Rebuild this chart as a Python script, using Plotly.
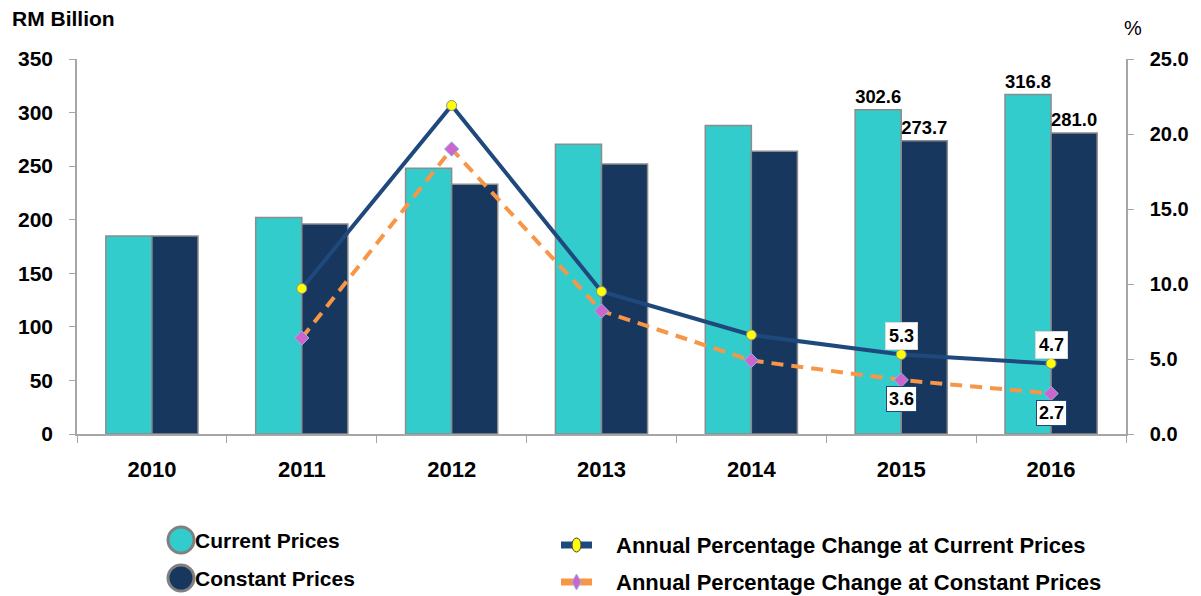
import plotly.graph_objects as go

years = ["2010", "2011", "2012", "2013", "2014", "2015", "2016"]
current_prices = [184.8, 202.0, 248.0, 270.5, 288.0, 302.6, 316.8]
constant_prices = [184.8, 196.0, 233.0, 252.0, 264.0, 273.7, 281.0]
pct_years = ["2011", "2012", "2013", "2014", "2015", "2016"]
pct_current = [9.7, 21.9, 9.5, 6.6, 5.3, 4.7]
pct_constant = [6.4, 19.0, 8.2, 4.9, 3.6, 2.7]

bar_label_years = ["2015", "2016"]
line_label_years = ["2015", "2016"]

FONT = "Arial, Liberation Sans, sans-serif"
TEAL = "#33CCCC"
NAVY = "#17375E"
LINE_NAVY = "#1F497D"
ORANGE = "#F79646"

cur_text = [f"{v:.1f}" if y in bar_label_years else "" for y, v in zip(years, current_prices)]
con_text = [f"{v:.1f}" if y in bar_label_years else "" for y, v in zip(years, constant_prices)]

fig = go.Figure()
fig.add_trace(go.Bar(
    x=years, y=current_prices, name="Current Prices",
    marker=dict(color=TEAL, line=dict(color="#8c8c8c", width=1.5)),
    text=cur_text, textposition="outside", cliponaxis=False,
    textfont=dict(family=FONT, size=19, color="black", weight="bold"),
))
fig.add_trace(go.Bar(
    x=years, y=constant_prices, name="Constant Prices",
    marker=dict(color=NAVY, line=dict(color="#8c8c8c", width=1.5)),
    text=con_text, textposition="outside", cliponaxis=False,
    textfont=dict(family=FONT, size=19, color="black", weight="bold"),
))
fig.add_trace(go.Scatter(
    x=pct_years, y=pct_constant, yaxis="y2", mode="lines+markers",
    name="Annual Percentage Change at Constant Prices",
    line=dict(color=ORANGE, width=4, dash="12px,8px"),
    marker=dict(symbol="diamond", size=11, color="#CC66CC", line=dict(color="#8fb4e3", width=1)),
    cliponaxis=False,
))
fig.add_trace(go.Scatter(
    x=pct_years, y=pct_current, yaxis="y2", mode="lines+markers",
    name="Annual Percentage Change at Current Prices",
    line=dict(color=LINE_NAVY, width=4),
    marker=dict(symbol="circle", size=10, color="#FFFF00", line=dict(color="#8c8c8c", width=1)),
    cliponaxis=False,
))

annotations = []
for y, v in zip(pct_years, pct_current):
    if y in line_label_years:
        annotations.append(dict(x=years.index(y), y=v, xref="x", yref="y2", text=f"{v:.1f}", showarrow=False,
                                yshift=19, bgcolor="white", bordercolor="#d9d9d9", borderwidth=1, borderpad=3,
                                font=dict(family=FONT, size=18, color="black", weight="bold")))
for y, v in zip(pct_years, pct_constant):
    if y in line_label_years:
        annotations.append(dict(x=years.index(y), y=v, xref="x", yref="y2", text=f"{v:.1f}", showarrow=False,
                                yshift=-19, bgcolor="white", bordercolor="#1F497D", borderwidth=1, borderpad=2,
                                font=dict(family=FONT, size=18, color="black", weight="bold")))


def px(xp):
    return (xp - 77) / 1049


def py(yp):
    return (434 - yp) / 375


annotations.append(dict(x=px(10), y=py(19), xref="paper", yref="paper", text="RM Billion", showarrow=False,
                        xanchor="left", yanchor="middle",
                        font=dict(family=FONT, size=21, color="black", weight="bold")))
annotations.append(dict(x=px(1133), y=py(28), xref="paper", yref="paper", text="%",
                        showarrow=False, xanchor="center", yanchor="middle",
                        font=dict(family=FONT, size=20, color="black")))

shapes = []
legend_items = [
    (TEAL, "Current Prices", 181, 540),
    (NAVY, "Constant Prices", 181, 578),
]
for col, label, cx, cy in legend_items:
    shapes.append(dict(type="circle", xref="paper", yref="paper",
                       x0=px(cx - 13), x1=px(cx + 13), y0=py(cy + 13), y1=py(cy - 13),
                       fillcolor=col, line=dict(color="#808080", width=3)))
    annotations.append(dict(x=px(193), y=py(cy), xref="paper", yref="paper", text=label, showarrow=False,
                            xanchor="left", yanchor="middle",
                            font=dict(family=FONT, size=21, color="black", weight="bold")))

line_items = [
    (LINE_NAVY, "#FFFF00", "circle", "Annual Percentage Change at Current Prices", 545),
    (ORANGE, "#CC66CC", "diamond", "Annual Percentage Change at Constant Prices", 582),
]
for lcol, mcol, sym, label, cy in line_items:
    shapes.append(dict(type="line", xref="paper", yref="paper", x0=px(561), x1=px(592), y0=py(cy), y1=py(cy),
                       line=dict(color=lcol, width=7)))
    if sym == "circle":
        shapes.append(dict(type="circle", xref="paper", yref="paper",
                           x0=px(572), x1=px(581), y0=py(cy + 7), y1=py(cy - 7),
                           fillcolor=mcol, line=dict(color="#404040", width=1)))
    else:
        shapes.append(dict(type="path", xref="paper", yref="paper",
                           path=f"M {px(576.5)} {py(cy-8)} L {px(581)} {py(cy)} L {px(576.5)} {py(cy+8)} L {px(572)} {py(cy)} Z",
                           fillcolor=mcol, line=dict(color="#8fb4e3", width=1)))
    annotations.append(dict(x=px(614), y=py(cy), xref="paper", yref="paper", text=label, showarrow=False,
                            xanchor="left", yanchor="middle",
                            font=dict(family=FONT, size=22, color="black", weight="bold")))

fig.update_layout(
    width=1193, height=588,
    margin=dict(l=69, r=75, t=51, b=162, autoexpand=False),
    paper_bgcolor="white", plot_bgcolor="white",
    barmode="group", bargap=0.385, bargroupgap=0,
    showlegend=False,
    font=dict(family=FONT, size=18, color="black"),
    xaxis=dict(type="category", range=[-0.5, 6.5], showline=True, linecolor="#a6a6a6", linewidth=1.5,
               ticks="outside", tickson="boundaries", ticklen=7, tickcolor="#a6a6a6",
               tickfont=dict(family=FONT, size=22, color="black", weight="bold"),
               showgrid=False, ticklabelstandoff=15),
    yaxis=dict(range=[0, 350], dtick=50, showline=True, linecolor="#a6a6a6", linewidth=1.5,
               ticks="outside", ticklen=6, tickcolor="#a6a6a6", showgrid=False, zeroline=False,
               ticklabelstandoff=12,
               tickfont=dict(family=FONT, size=21, color="black", weight="bold")),
    yaxis2=dict(range=[0, 25], dtick=5, tickformat=".1f", overlaying="y", side="right",
                showline=True, linecolor="#a6a6a6", linewidth=1.5,
                ticks="outside", ticklen=6, tickcolor="#a6a6a6", showgrid=False, zeroline=False,
                ticklabelstandoff=12,
                tickfont=dict(family=FONT, size=20, color="black", weight="bold")),
    annotations=annotations,
    shapes=shapes,
)

fig.write_html("out.html")
